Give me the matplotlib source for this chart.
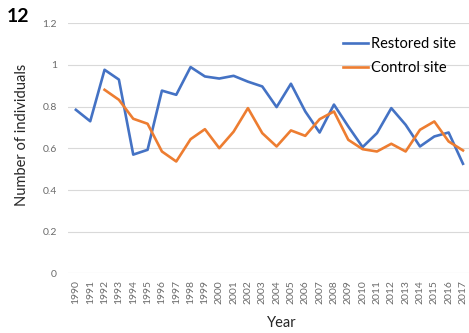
import matplotlib
matplotlib.use("Agg")
import matplotlib.pyplot as plt

years = list(range(1990, 2018))
restored = [0.785, 0.73, 0.977, 0.93, 0.57, 0.593, 0.877, 0.857, 0.99, 0.945,
            0.935, 0.948, 0.92, 0.897, 0.798, 0.91, 0.777, 0.676, 0.81, 0.705,
            0.606, 0.673, 0.793, 0.713, 0.609, 0.657, 0.676, 0.526]
control_years = list(range(1992, 2018))
control = [0.881, 0.833, 0.742, 0.718, 0.585, 0.537, 0.644, 0.692, 0.601, 0.68,
           0.793, 0.673, 0.609, 0.686, 0.66, 0.74, 0.777, 0.641, 0.596, 0.585,
           0.622, 0.585, 0.689, 0.729, 0.633, 0.59]
yticks = [0, 0.2, 0.4, 0.6, 0.8, 1, 1.2]
ytick_labels = ["0", "0.2", "0.4", "0.6", "0.8", "1", "1.2"]

plt.rcParams['font.family'] = ['Lato', 'DejaVu Sans']

W, H = 469, 333
fig = plt.figure(figsize=(W / 100, H / 100), dpi=100)
ax = fig.add_axes([0.145, 0.179, 0.855, 0.751])

ax.plot(years, restored, color="#4472C4", lw=1.9, label="Restored site", solid_joinstyle="round")
ax.plot(control_years, control, color="#ED7D31", lw=1.9, label="Control site", solid_joinstyle="round")

ax.set_xlim(1989.45, 2017.42)
ax.set_ylim(0, 1.2)
ax.set_yticks(yticks)
ax.set_yticklabels(ytick_labels)
ax.set_xticks(years)
ax.set_xticklabels([str(y) for y in years], rotation=90)
ax.tick_params(axis="both", length=0, colors="#6b6b6b", labelsize=7.5)
ax.tick_params(axis="y", pad=8)
ax.tick_params(axis="x", pad=5)
ax.grid(axis="y", color="#D9D9D9", lw=0.8)
ax.set_axisbelow(True)
for s in ax.spines.values():
    s.set_visible(False)

fig.text(22 / W, 1 - 135 / H, "Number of individuals", fontsize=10.5, color="#262626",
         rotation=90, ha="center", va="center")
fig.text(282 / W, 1 - 323 / H, "Year", fontsize=10.5, color="#262626",
         ha="center", va="center")

ax.legend(loc="upper left", bbox_to_anchor=(331 / W, 1 - 25 / H),
          bbox_transform=fig.transFigure, frameon=False, fontsize=10.5,
          handlelength=1.75, handletextpad=0.2, labelspacing=0.7, borderpad=0.3)

fig.text(0.015, 0.95, "12", fontsize=14, fontweight="bold", ha="left", va="center")

fig.savefig("out.png", dpi=100)
